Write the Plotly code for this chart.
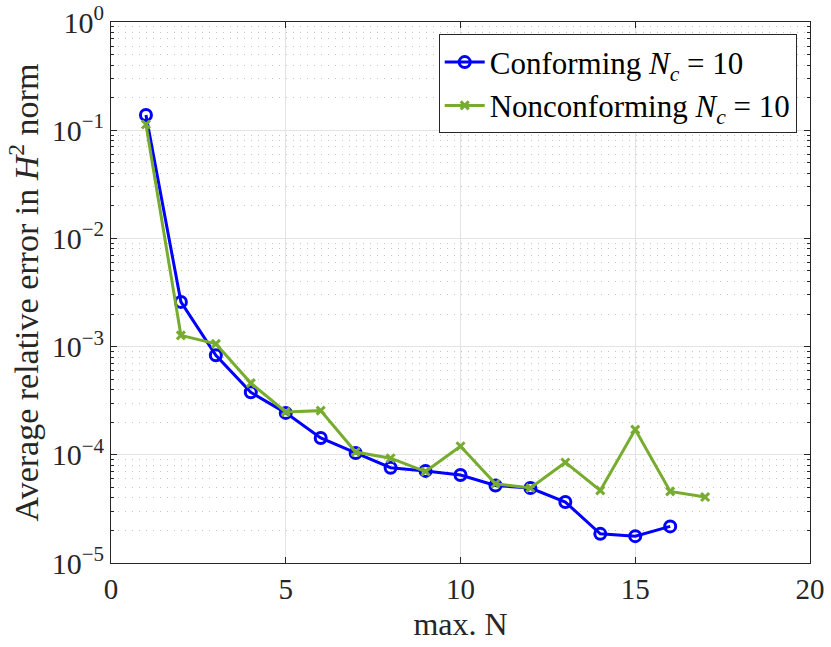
import plotly.graph_objects as go

# max. N
n_conf = list(range(1, 17))
n_nonconf = list(range(1, 18))

# average relative error in H^2 norm
err_conf = [1.38e-1, 2.59e-3, 8.3e-4, 3.78e-4, 2.44e-4, 1.43e-4, 1.04e-4, 7.6e-5,
            7.1e-5, 6.5e-5, 5.2e-5, 4.93e-5, 3.66e-5, 1.86e-5, 1.77e-5, 2.18e-5]
err_nonconf = [1.13e-1, 1.27e-3, 1.06e-3, 4.6e-4, 2.49e-4, 2.56e-4, 1.06e-4, 9.3e-5,
               7.0e-5, 1.2e-4, 5.4e-5, 4.93e-5, 8.5e-5, 4.69e-5, 1.71e-4, 4.59e-5, 4.07e-5]

x_ticks = [0, 5, 10, 15, 20]
y_ticks = [1e-5, 1e-4, 1e-3, 1e-2, 1e-1, 1e0]
y_ticktext = ["10<sup>−5</sup>", "10<sup>−4</sup>", "10<sup>−3</sup>",
              "10<sup>−2</sup>", "10<sup>−1</sup>", "10<sup>0</sup>"]

FONT = "Liberation Serif"
AXC = "#262626"

fig = go.Figure()

fig.add_trace(go.Scatter(
    x=n_conf, y=err_conf, mode="lines+markers",
    name="Conforming <i>N<sub>c</sub></i> = 10",
    line=dict(color="#0000FF", width=3),
    marker=dict(symbol="circle-open", size=11, color="#0000FF", line=dict(width=3)),
))
fig.add_trace(go.Scatter(
    x=n_nonconf, y=err_nonconf, mode="lines+markers",
    name="Nonconforming <i>N<sub>c</sub></i> = 10",
    line=dict(color="#77AC30", width=3),
    marker=dict(symbol="x-thin-open", size=8, color="#77AC30", line=dict(width=3, color="#77AC30")),
))

fig.update_layout(
    width=831, height=647,
    margin=dict(l=111, r=21, t=22, b=84),
    paper_bgcolor="white", plot_bgcolor="white",
    font=dict(family=FONT, size=29, color=AXC),
    showlegend=True,
    legend=dict(
        x=0.981, y=0.977, xanchor="right", yanchor="top",
        bgcolor="white", bordercolor=AXC, borderwidth=1,
        font=dict(size=31, color="black"),
        tracegroupgap=0, itemwidth=40,
    ),
)

fig.update_xaxes(
    range=[0, 20], tickvals=x_ticks, ticktext=[str(v) for v in x_ticks],
    showline=True, linecolor=AXC, linewidth=1, mirror="ticks",
    ticks="inside", ticklen=6, tickcolor=AXC,
    showgrid=True, gridcolor="#e3e3e3", gridwidth=1, zeroline=False,
    automargin=False, ticklabeloverflow="allow",
    title=dict(text="max. N", font=dict(size=32, color=AXC), standoff=8),
    tickfont=dict(size=29, color=AXC),
)

fig.update_yaxes(
    type="log", range=[-5, 0], tickvals=y_ticks, ticktext=y_ticktext,
    showline=True, linecolor=AXC, linewidth=1, mirror="ticks",
    ticks="inside", ticklen=6, tickcolor=AXC,
    showgrid=True, gridcolor="#e3e3e3", gridwidth=1, zeroline=False,
    automargin=False, ticklabeloverflow="allow",
    minor=dict(dtick="D1", ticks="inside", ticklen=3, tickcolor=AXC,
               showgrid=True, gridcolor="#c4c4c4", griddash="1px,6px", gridwidth=1),
    title=dict(text="Average relative error in <i>H</i><sup>2</sup> norm",
               font=dict(size=34, color=AXC), standoff=2),
    tickfont=dict(size=30, color=AXC),
)

# drop the default 8px page margin so the figure sits at the window corner
fig.write_html("out.html", config={"displayModeBar": False},
               post_script="document.body.style.margin='0';")
